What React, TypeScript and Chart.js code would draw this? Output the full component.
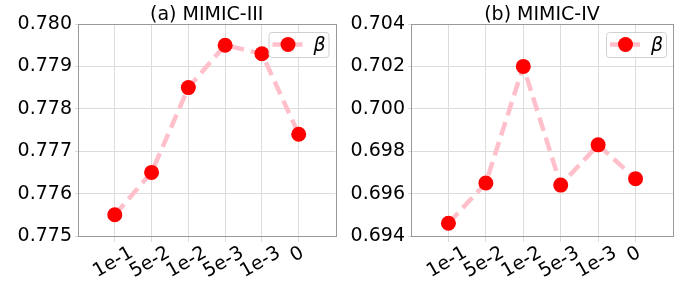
import React, { useEffect, useRef } from "react";
import { Chart, registerables } from "chart.js";

Chart.register(...registerables);

const categories = ["1e-1", "5e-2", "1e-2", "5e-3", "1e-3", "0"];
const mimic3Values = [0.7755, 0.7765, 0.7785, 0.7795, 0.7793, 0.7774];
const mimic4Values = [0.6946, 0.6965, 0.702, 0.6964, 0.6983, 0.6967];
const mimic3Ticks = [0.775, 0.776, 0.777, 0.778, 0.779, 0.78];
const mimic4Ticks = [0.694, 0.696, 0.698, 0.7, 0.702, 0.704];
const seriesLabel = "β";
const panelTitles = ["(a) MIMIC-III", "(b) MIMIC-IV"];

const FONT = '"DejaVu Sans", sans-serif';
const FS = 19;
const PINK = "#ffc0cb";
const RED = "#ff0000";
const GRID = "#dcdcdc";
const SPINE = "#999999";
const W = 343;
const H = 282;
const TOP = 24;
const BOTTOM = 236;
const MR = 7.5;

type PanelProps = {
  left: number;
  areaLeft: number;
  areaRight: number;
  title: string;
  values: number[];
  yTicks: number[];
};

function Panel({ left, areaLeft, areaRight, title, values, yTicks }: PanelProps) {
  const ref = useRef<HTMLCanvasElement | null>(null);
  useEffect(() => {
    if (!ref.current) return;
    const decor = {
      id: "decor",
      afterDraw(chart: any) {
        const ctx = chart.ctx as CanvasRenderingContext2D;
        const a = chart.chartArea;
        const xs = chart.scales.x;
        ctx.save();
        // spines
        ctx.strokeStyle = SPINE;
        ctx.lineWidth = 1;
        ctx.setLineDash([]);
        ctx.strokeRect(Math.round(a.left) + 0.5, Math.round(a.top) + 0.5, Math.round(a.right - a.left), Math.round(a.bottom - a.top));
        // title
        ctx.fillStyle = "#000";
        ctx.font = `${FS}px ${FONT}`;
        ctx.textAlign = "center";
        ctx.textBaseline = "alphabetic";
        ctx.fillText(title, (a.left + a.right) / 2, 19.5);
        // rotated x labels
        categories.forEach((lab, i) => {
          const x = xs.getPixelForValue(i);
          const w = ctx.measureText(lab).width;
          const cy = a.bottom + 7 + (w * 0.5 + 15.6) / 2 + 1;
          ctx.save();
          ctx.translate(x - 1.5, cy);
          ctx.rotate(-Math.PI / 6);
          ctx.textAlign = "center";
          ctx.textBaseline = "middle";
          ctx.fillText(lab, 0, 0);
          ctx.restore();
        });
        // legend
        const bw = 60;
        const bh = 25;
        const bx = a.right - 7 - bw;
        const by = 32;
        ctx.beginPath();
        (ctx as any).roundRect(bx + 0.5, by + 0.5, bw, bh, 3);
        ctx.fillStyle = "rgba(255,255,255,0.8)";
        ctx.fill();
        ctx.strokeStyle = "#d0d0d0";
        ctx.stroke();
        const ly = by + 12.5;
        ctx.strokeStyle = PINK;
        ctx.lineWidth = 4.5;
        ctx.setLineDash([14, 7]);
        ctx.beginPath();
        ctx.moveTo(bx + 4, ly);
        ctx.lineTo(bx + 34, ly);
        ctx.stroke();
        ctx.setLineDash([]);
        ctx.fillStyle = RED;
        ctx.beginPath();
        ctx.arc(bx + 19.5, ly, MR, 0, Math.PI * 2);
        ctx.fill();
        ctx.fillStyle = "#000";
        ctx.font = `italic ${FS}px ${FONT}`;
        ctx.textAlign = "left";
        ctx.textBaseline = "alphabetic";
        ctx.fillText(seriesLabel, bx + 45, by + 18.5);
        ctx.restore();
      },
    };
    const chart = new Chart(ref.current, {
      type: "line",
      data: {
        datasets: [
          {
            label: seriesLabel,
            data: values.map((v, i) => ({ x: i, y: v })),
            borderColor: PINK,
            borderWidth: 4.5,
            borderDash: [14, 7],
            pointRadius: MR,
            pointHoverRadius: MR,
            pointBackgroundColor: RED,
            pointBorderWidth: 0,
            tension: 0,
            fill: false,
          },
        ],
      },
      options: {
        responsive: false,
        animation: false,
        devicePixelRatio: 1,
        layout: { padding: { left: 0, right: W - areaRight, top: TOP, bottom: 0 } },
        plugins: { legend: { display: false }, title: { display: false }, tooltip: { enabled: false } },
        scales: {
          x: {
            type: "linear",
            min: -1,
            max: 6,
            border: { display: false },
            grid: { color: GRID, tickLength: 6, lineWidth: 1 },
            ticks: { display: false },
            afterBuildTicks: (s: any) => {
              s.ticks = categories.map((_, i) => ({ value: i }));
            },
            afterFit: (s: any) => {
              s.height = H - BOTTOM;
            },
          },
          y: {
            type: "linear",
            min: yTicks[0],
            max: yTicks[yTicks.length - 1],
            border: { display: false },
            grid: { color: GRID, tickLength: 3, lineWidth: 1 },
            ticks: {
              padding: 3,
              color: "#000",
              font: { family: FONT, size: FS },
              callback: (v: any) => Number(v).toFixed(3),
            },
            afterBuildTicks: (s: any) => {
              s.ticks = yTicks.map((v) => ({ value: v }));
            },
            afterFit: (s: any) => {
              s.width = areaLeft;
            },
          },
        },
      } as any,
      plugins: [decor],
    });
    return () => chart.destroy();
  }, []);
  return (
    <canvas
      ref={ref}
      width={W}
      height={H}
      style={{ position: "absolute", left, top: 0, width: W, height: H }}
    />
  );
}

export default function App() {
  return (
    <div style={{ position: "absolute", left: 0, top: 0, width: 686, height: 282, background: "#fff" }}>
      <Panel left={0} areaLeft={78} areaRight={340} title={panelTitles[0]} values={mimic3Values} yTicks={mimic3Ticks} />
      <Panel left={343} areaLeft={68} areaRight={330} title={panelTitles[1]} values={mimic4Values} yTicks={mimic4Ticks} />
    </div>
  );
}
